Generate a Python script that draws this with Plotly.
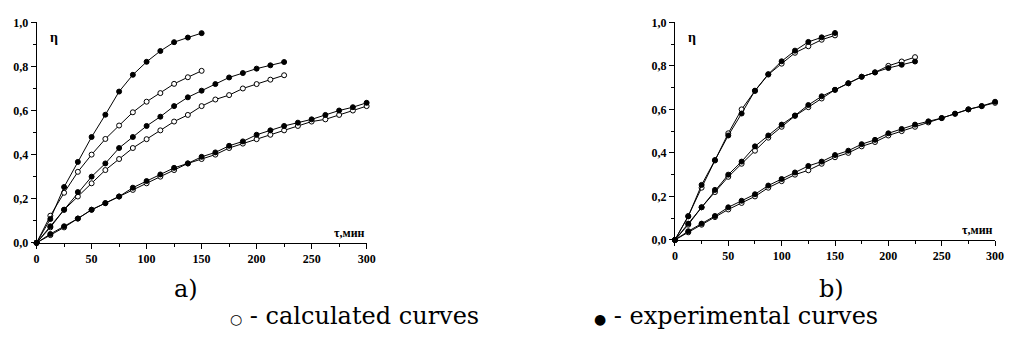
import plotly.graph_objects as go

tau_150 = [0, 12.5, 25, 37.5, 50, 62.5, 75, 87.5, 100, 112.5, 125, 137.5, 150]
tau_225 = tau_150 + [162.5, 175, 187.5, 200, 212.5, 225]
tau_300 = tau_225 + [237.5, 250, 262.5, 275, 287.5, 300]

# experimental curves (same in a and b)
exp_1 = [0, 0.108, 0.253, 0.367, 0.48, 0.581, 0.686, 0.762, 0.821, 0.87, 0.91, 0.931, 0.951]
exp_2 = [0, 0.075, 0.15, 0.23, 0.30, 0.36, 0.43, 0.48, 0.53, 0.572, 0.62, 0.66, 0.69,
         0.72, 0.75, 0.77, 0.79, 0.805, 0.82]
exp_3 = [0, 0.04, 0.075, 0.11, 0.15, 0.18, 0.21, 0.25, 0.28, 0.31, 0.34, 0.36, 0.39,
         0.41, 0.44, 0.46, 0.49, 0.51, 0.53, 0.545, 0.56, 0.58, 0.60, 0.615, 0.635]

# calculated curves, panel a
calc_a1 = [0, 0.123, 0.227, 0.322, 0.40, 0.471, 0.532, 0.592, 0.64, 0.679, 0.721, 0.751, 0.78]
calc_a2 = [0, 0.07, 0.15, 0.21, 0.27, 0.33, 0.38, 0.43, 0.47, 0.51, 0.55, 0.58, 0.62,
           0.65, 0.67, 0.70, 0.72, 0.74, 0.76]
calc_a3 = [0, 0.035, 0.07, 0.11, 0.15, 0.18, 0.21, 0.24, 0.27, 0.30, 0.33, 0.36, 0.38,
           0.40, 0.43, 0.45, 0.47, 0.49, 0.51, 0.53, 0.55, 0.56, 0.58, 0.60, 0.62]

# calculated curves, panel b
calc_b1 = [0, 0.11, 0.24, 0.365, 0.49, 0.60, 0.685, 0.76, 0.81, 0.86, 0.89, 0.92, 0.94]
calc_b2 = [0, 0.07, 0.15, 0.22, 0.29, 0.35, 0.41, 0.47, 0.52, 0.57, 0.61, 0.65, 0.69,
           0.72, 0.75, 0.77, 0.80, 0.82, 0.84]
calc_b3 = [0, 0.035, 0.07, 0.105, 0.14, 0.17, 0.20, 0.24, 0.27, 0.30, 0.32, 0.35, 0.38,
           0.40, 0.43, 0.45, 0.48, 0.50, 0.52, 0.54, 0.56, 0.58, 0.60, 0.615, 0.63]

x_ticks = [0, 50, 100, 150, 200, 250, 300]
y_ticks = [0.0, 0.2, 0.4, 0.6, 0.8, 1.0]
panel_labels = ["a)", "b)"]
legend_symbols = ["○", "●"]
legend_texts = [" - calculated curves", " - experimental curves"]

fig = go.Figure()

def add(x, y, filled, xa, ya):
    fig.add_trace(go.Scatter(
        x=x, y=y, mode="lines+markers", xaxis=xa, yaxis=ya,
        line=dict(color="black", width=1),
        marker=dict(symbol="circle", size=5,
                    color="black" if filled else "white",
                    line=dict(color="black", width=1)),
        cliponaxis=False, showlegend=False, hoverinfo="skip"))

# panel a
add(tau_300, calc_a3, False, "x", "y")
add(tau_300, exp_3, True, "x", "y")
add(tau_225, calc_a2, False, "x", "y")
add(tau_225, exp_2, True, "x", "y")
add(tau_150, calc_a1, False, "x", "y")
add(tau_150, exp_1, True, "x", "y")
# panel b
add(tau_300, calc_b3, False, "x2", "y2")
add(tau_300, exp_3, True, "x2", "y2")
add(tau_225, calc_b2, False, "x2", "y2")
add(tau_225, exp_2, True, "x2", "y2")
add(tau_150, calc_b1, False, "x2", "y2")
add(tau_150, exp_1, True, "x2", "y2")

tickfont = dict(family="'Liberation Serif', 'Times New Roman', serif", size=12,
                color="black", weight="bold")

def xax(domain, anchor):
    return dict(domain=domain, anchor=anchor, range=[0, 300], tickvals=x_ticks,
                showgrid=False, zeroline=False, showline=True, linecolor="black",
                linewidth=1, ticks="outside", ticklen=5, tickcolor="black",
                tickfont=tickfont,
                minor=dict(dtick=25, ticks="outside", ticklen=3, tickcolor="black"),
                fixedrange=True)

def yax(domain, anchor):
    return dict(domain=domain, anchor=anchor, range=[0, 1], tickvals=y_ticks,
                tickformat=".1f", showgrid=False, zeroline=False, showline=True,
                linecolor="black", linewidth=1, ticks="outside", ticklen=5,
                tickcolor="black", tickfont=tickfont,
                minor=dict(dtick=0.1, ticks="outside", ticklen=3, tickcolor="black"),
                fixedrange=True)

fig.update_layout(
    width=1010, height=338,
    margin=dict(l=0, r=0, t=0, b=0),
    paper_bgcolor="white", plot_bgcolor="white",
    separators=", ",
    xaxis=xax([34/1010, 368/1010], "y"),
    yaxis=yax([92/338, 322/338], "x"),
    xaxis2=xax([680/1010, 1004/1010], "y2"),
    yaxis2=yax([95/338, 322/338], "x2"),
)

annfont = dict(family="'Liberation Serif', serif", size=12, color="black", weight="bold")
for xr, yr in (("x", "y"), ("x2", "y2")):
    fig.add_annotation(x=10, y=0.93, xref=xr, yref=yr, text="η", showarrow=False,
                       xanchor="left", yanchor="middle",
                       font=dict(family="'Liberation Serif', serif", size=14, color="black", weight="bold"))
    fig.add_annotation(x=300, y=0.0, xref=xr, yref=yr, text="τ,мин", showarrow=False,
                       xanchor="right", yanchor="bottom", yshift=1, font=annfont)

bigfont = dict(family="DejaVu Serif", size=24, color="black")
fig.add_annotation(x=185/1010, y=1 - 294/338, xref="paper", yref="paper", text=panel_labels[0],
                   showarrow=False, xanchor="center", yanchor="middle", font=bigfont)
fig.add_annotation(x=838/1010, y=1 - 294/338, xref="paper", yref="paper", text=panel_labels[1],
                   showarrow=False, xanchor="center", yanchor="middle", font=bigfont)
for xpos, sym, txt in ((228, legend_symbols[0], legend_texts[0]),
                       (596, legend_symbols[1], legend_texts[1])):
    fig.add_annotation(x=xpos/1010, y=1 - 322/338, xref="paper", yref="paper",
                       text="<span style='font-size:14px'>" + sym + "</span>" + txt,
                       showarrow=False, xanchor="left", yanchor="middle", font=bigfont)

fig.write_html("out.html")
